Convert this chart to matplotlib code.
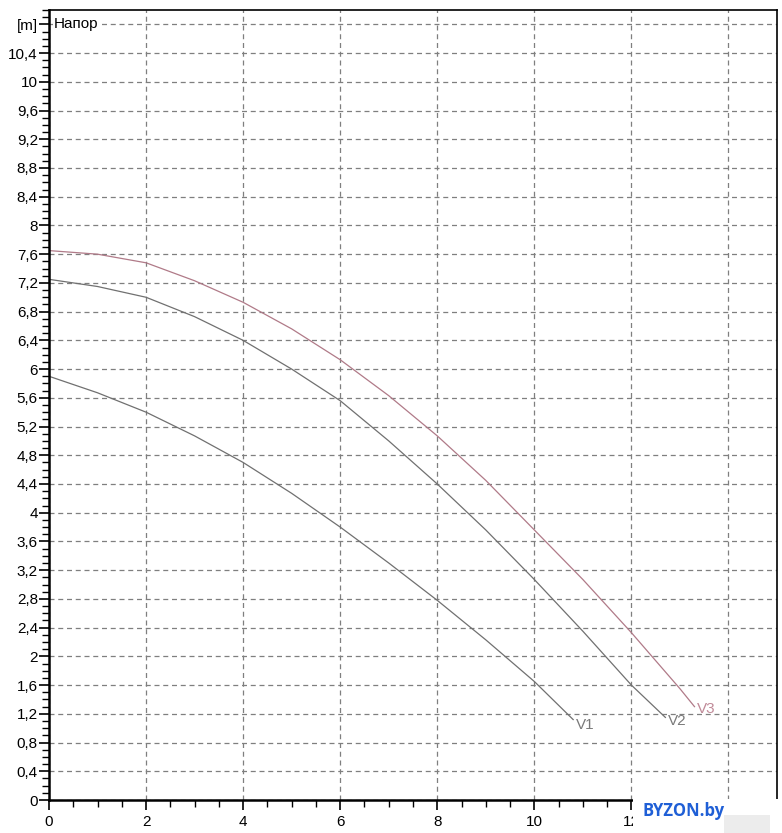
import matplotlib.pyplot as plt
import numpy as np
from matplotlib.ticker import MultipleLocator, FixedLocator
from matplotlib.patches import Rectangle

plt.rcParams['font.family'] = ['Liberation Sans', 'DejaVu Sans']

# Напор по кривым V1..V3
q_v1 = [0, 1, 2, 3, 4, 5, 6, 7, 8, 9, 10, 10.8]
h_v1 = [5.9, 5.67, 5.4, 5.07, 4.7, 4.27, 3.8, 3.3, 2.78, 2.23, 1.65, 1.12]

q_v2 = [0, 1, 2, 3, 4, 5, 6, 7, 8, 9, 10, 11, 12, 12.7]
h_v2 = [7.25, 7.15, 7.0, 6.73, 6.4, 6.0, 5.56, 5.0, 4.4, 3.76, 3.07, 2.35, 1.6, 1.15]

q_v3 = [0, 1, 2, 3, 4, 5, 6, 7, 8, 9, 10, 11, 12, 13, 13.3]
h_v3 = [7.65, 7.6, 7.48, 7.23, 6.93, 6.56, 6.13, 5.63, 5.07, 4.45, 3.76, 3.07, 2.33, 1.55, 1.3]

x_ticks = [0, 2, 4, 6, 8, 10, 12, 14]
x_labels = ['0', '2', '4', '6', '8', '10', '12', '']  # 14 закрыта водяным знаком
y_ticks = [round(0.4 * i, 1) for i in range(28)]
y_labels = [f'{v:g}'.replace('.', ',') for v in y_ticks[:-1]] + ['[m]']

fig = plt.figure(figsize=(7.82, 8.33), dpi=100)
ax = fig.add_axes([49 / 782, 33 / 833, 728 / 782, 790 / 833])

ax.plot(q_v1, h_v1, color='#707070', lw=0.9)
ax.plot(q_v2, h_v2, color='#707070', lw=0.9)
ax.plot(q_v3, h_v3, color='#b07a88', lw=0.9)

ax.text(q_v1[-1] + 0.05, h_v1[-1] - 0.08, 'V1', color='#7a7a7a', fontsize=11, va='center')
ax.text(q_v2[-1] + 0.05, h_v2[-1] - 0.05, 'V2', color='#7a7a7a', fontsize=11, va='center')
ax.text(q_v3[-1] + 0.05, h_v3[-1] - 0.03, 'V3', color='#c08a98', fontsize=11, va='center')

ax.set_xlim(0, 15)
ax.set_ylim(0, 11)
ax.xaxis.set_major_locator(FixedLocator(x_ticks))
ax.xaxis.set_minor_locator(MultipleLocator(0.5))
ax.yaxis.set_major_locator(FixedLocator(y_ticks))
ax.set_yticklabels(y_labels)
ax.yaxis.set_minor_locator(MultipleLocator(0.1))
ax.set_xticklabels(x_labels)

ax.tick_params(axis='both', which='major', length=7, width=1.2, labelsize=11, color='black')
ax.tick_params(axis='both', which='minor', length=5, width=1.0, color='black')
ax.tick_params(axis='x', pad=4)
ax.tick_params(axis='y', pad=1)

ax.grid(True, which='major', color='#7f7f7f', linestyle=(0, (4, 3)), lw=0.9)
ax.set_axisbelow(True)
for side in ['left', 'bottom']:
    ax.spines[side].set_linewidth(1.8)
for side in ['top', 'right']:
    ax.spines[side].set_linewidth(1.2)

ax.text(0.1, 10.8, 'Напор', fontsize=11, va='center', ha='left',
        bbox=dict(facecolor='white', edgecolor='none', pad=0.5))

# водяной знак поверх правого нижнего угла
fig.patches.append(Rectangle((633 / 782, 0), 149 / 782, 34 / 833,
                             transform=fig.transFigure, facecolor='white',
                             edgecolor='none', zorder=10))
fig.patches.append(Rectangle((724 / 782, 0), 46 / 782, 18 / 833,
                             transform=fig.transFigure, facecolor='#ececec',
                             edgecolor='none', zorder=11))
fig.text(643 / 782, 1 - 811 / 833, 'BYZON.by', color='#1f5fd6', fontsize=12,
         fontweight='bold', family='Open Sans', va='center', ha='left', zorder=12)

fig.savefig('out.png', dpi=100)
